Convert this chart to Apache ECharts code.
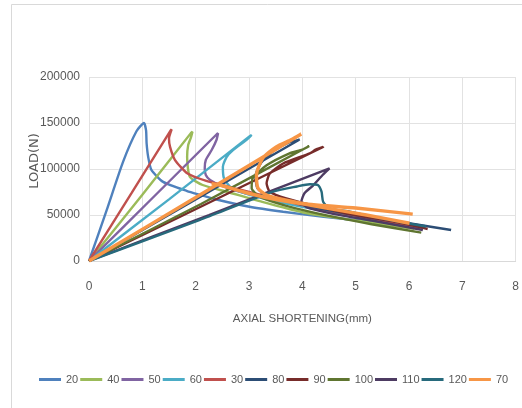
<!DOCTYPE html>
<html><head><meta charset="utf-8">
<script src="https://cdn.jsdelivr.net/npm/echarts@6/dist/echarts.min.js"></script>
<style>html,body{margin:0;padding:0;background:#fff}#c{width:522px;height:408px}</style>
</head><body><div id="c"></div>
<script>
const xTicks = [0,1,2,3,4,5,6,7,8];
const yTicks = [0,50000,100000,150000,200000];
const legendOrder = ['20','40','50','60','30','80','90','100','110','120','70'];

const x20 = [0,0.33,0.64,0.89,1.03,1.07,1.08,1.11,1.17,1.39,1.84,2.08,2.45,3.01,3.64,4.4,5.2,6.15];
const y20 = [0,55000,108000,141000,150000,142000,128000,113000,99000,86000,76000,72000,66000,59000,53600,48000,43500,39000];
const x30 = [0,0.8,1.52,1.55,1.50,1.52,1.61,1.85,2.2,2.8,3.5,4.2,5.0,6.25];
const y30 = [0,74000,141000,143000,133000,124000,110000,95000,87000,78000,68000,58000,49000,36000];
const x40 = [0,1.0,1.91,1.94,1.91,1.86,1.84,1.89,2.13,2.6,3.2,4.0,5.0,6.1];
const y40 = [0,72000,139000,140500,134000,126000,113000,91600,82600,75000,65000,53000,44000,35000];
const x50 = [0,1.2,2.39,2.42,2.39,2.30,2.19,2.17,2.19,2.27,2.45,2.9,3.5,4.2,5.0,6.2];
const y50 = [0,69000,137500,138800,131500,120600,109800,100800,93500,88000,82600,74000,66000,57000,48000,37000];
const x60 = [0,1.5,3.02,3.05,2.95,2.70,2.58,2.51,2.53,2.64,2.83,3.2,4.0,5.0,6.3];
const y60 = [0,67000,136000,137000,131500,120600,113000,102500,90000,81000,75300,69000,59000,49000,38000];
const x70 = [0,2.0,3.98,3.8,3.51,3.26,3.14,3.17,3.33,3.7,4.4,5.2,6.01];
const y70 = [0,69000,138000,132000,124000,112000,93500,79000,71700,66000,58000,50000,41000];
const x70b = [2.3,2.45,2.9,3.39,3.95,5.0,6.07];
const y70b = [84000,82600,75000,68100,62700,57600,51000];
const x80 = [0,2.0,3.95,3.75,3.47,3.23,3.12,3.16,3.35,3.8,4.5,5.3,6.0,6.79];
const y80 = [0,67000,132000,129000,120000,107000,92000,79000,71000,64000,55000,47000,41000,33700];
const x90 = [0,2.2,4.39,4.25,4.14,3.64,3.39,3.33,3.39,3.7,4.3,5.0,5.7,6.35];
const y90 = [0,62000,124000,121000,117000,106000,95000,84500,75300,68000,59000,50000,43000,34800];
const x100 = [0,2.1,4.13,4.0,3.76,3.33,3.07,3.05,3.2,3.7,4.5,5.3,6.23];
const y100 = [0,62000,125000,121000,117000,104000,90000,79000,70000,60000,49000,40000,30800];
const x110 = [0,2.25,4.51,4.38,4.2,4.04,3.98,4.1,4.6,5.3,6.26];
const y110 = [0,50000,100700,93500,82000,73600,64000,58000,51000,44000,33700];
const x120 = [0,2.08,3.45,3.9,4.14,4.29,4.36,4.39,4.51,4.89,5.5,6.32];
const y120 = [0,44600,75300,81000,83400,82600,75300,64500,57300,53600,46000,37300];

const seriesDefs = [
  {name:'20', x:x20, y:y20, color:'#4F81BD'},
  {name:'40', x:x40, y:y40, color:'#9BBB59'},
  {name:'50', x:x50, y:y50, color:'#8064A2'},
  {name:'60', x:x60, y:y60, color:'#4BACC6'},
  {name:'30', x:x30, y:y30, color:'#C0504D'},
  {name:'80', x:x80, y:y80, color:'#2C4D75'},
  {name:'90', x:x90, y:y90, color:'#772C2A'},
  {name:'100', x:x100, y:y100, color:'#5F7530'},
  {name:'110', x:x110, y:y110, color:'#4D3B62'},
  {name:'120', x:x120, y:y120, color:'#276A7C'},
  {name:'70', x:x70, y:y70, color:'#F79646', w:3.4},
  {name:'70', x:x70b, y:y70b, color:'#F79646', w:3.4}
];

const font = "'Liberation Sans',Arial,sans-serif";
const series = seriesDefs.map(d => ({
  name: d.name, type: 'line', showSymbol: false, symbol: 'none', smooth: 0.2,
  color: d.color,
  lineStyle: {width: d.w || 2.4, color: d.color},
  data: d.x.map((v,i) => [v, d.y[i]])
}));

const chart = echarts.init(document.getElementById('c'), null, {renderer:'canvas'});
chart.setOption({
  animation: false,
  backgroundColor: '#fff',
  grid: {left: 89, right: 6, top: 77, bottom: 147},
  graphic: [
    {type:'rect', shape:{x:11.5, y:4.5, width:600, height:600}, style:{fill:'none', stroke:'#d9d9d9', lineWidth:1}, silent:true},
    {type:'text', x:35, y:161, rotation:Math.PI/2, style:{text:'LOAD(N)', font:"13px 'DejaVu Sans'", fill:'#595959', align:'center', verticalAlign:'middle'}}
  ],
  xAxis: {
    type:'value', min: xTicks[0], max: xTicks[xTicks.length-1], interval: 1,
    name: 'AXIAL SHORTENING(mm)', nameLocation:'middle', nameGap: 52,
    nameTextStyle: {color:'#595959', fontSize:11.5, fontFamily:font},
    axisLine:{show:true, lineStyle:{color:'#d9d9d9', width:1}},
    axisTick:{show:false},
    axisLabel:{color:'#595959', fontSize:12, fontFamily:font, margin:20},
    splitLine:{show:true, lineStyle:{color:'#e2e2e2', width:1}}
  },
  yAxis: {
    type:'value', min: yTicks[0], max: yTicks[yTicks.length-1], interval: 50000,
    axisLine:{show:false}, axisTick:{show:false},
    axisLabel:{color:'#595959', fontSize:12, fontFamily:font, margin:9, formatter: v => String(v)},
    splitLine:{show:true, lineStyle:{color:'#e2e2e2', width:1}}
  },
  legend: {
    data: legendOrder, bottom: 18, left: 34, icon:'rect', itemWidth:22, itemHeight:3, itemGap:2,
    textStyle:{color:'#595959', fontSize:11, fontFamily:font}
  },
  series: series
});
</script></body></html>
